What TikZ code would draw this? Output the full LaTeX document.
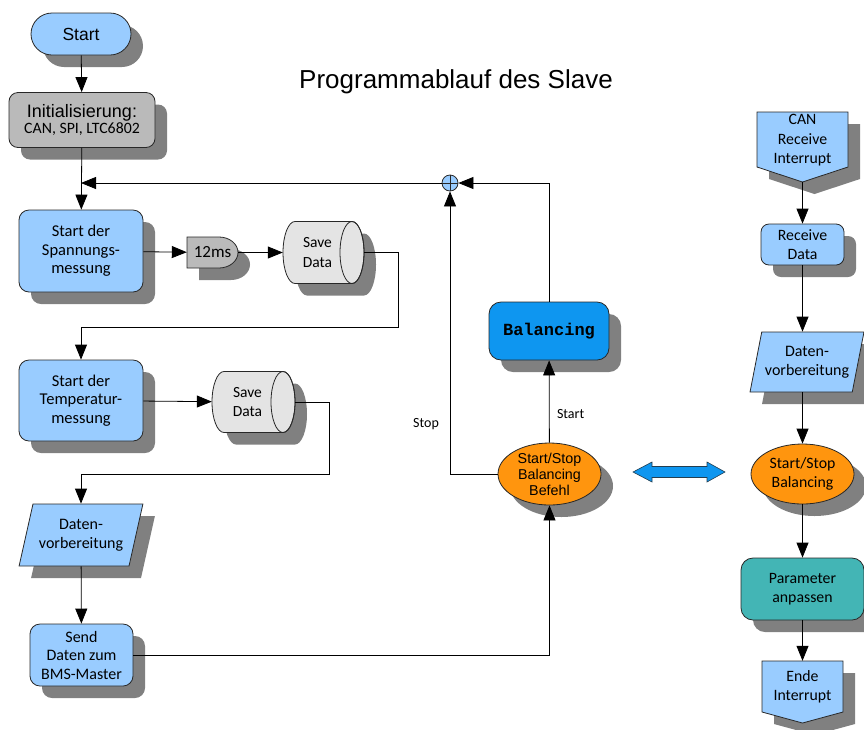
\documentclass[tikz,border=0pt]{standalone}
\usepackage{fontspec}
\setmainfont{Carlito}
\newfontfamily\arialf{Liberation Sans}
\newfontfamily\courf{Liberation Mono}
\usetikzlibrary{shapes.geometric,shapes.misc,shadows,arrows.meta}

\definecolor{lightblue}{RGB}{153,204,255}
\definecolor{shadowgray}{RGB}{128,128,128}
\definecolor{initgray}{RGB}{186,186,186}
\definecolor{storegray}{RGB}{228,228,228}
\definecolor{decisionorange}{RGB}{255,149,14}
\definecolor{balblue}{RGB}{14,150,240}
\definecolor{tealbox}{RGB}{67,181,181}
\definecolor{outline}{RGB}{40,40,40}

\newcommand\fsz[2]{\fontsize{#1}{#2}\selectfont}

% horizontal storage drum: left, right, top, bottom (end face on the right)
\newcommand\drum[4]{%
  \pgfmathsetmacro\dry{(#4-#3)/2}%
  \pgfmathsetmacro\dmid{(#4+#3)/2}%
  \fill[shadowgray] (#1+24,#3+12) -- (#2,#3+12)
    arc[start angle=-90, end angle=90, x radius=12, y radius=\dry] -- (#1+24,#4+12)
    arc[start angle=90, end angle=270, x radius=12, y radius=\dry] -- cycle;
  \filldraw[fill=storegray, draw=outline, line width=0.8pt] (#1+12,#3) -- (#2-12,#3)
    arc[start angle=-90, end angle=90, x radius=12, y radius=\dry] -- (#1+12,#4)
    arc[start angle=90, end angle=270, x radius=12, y radius=\dry] -- cycle;
  \draw[outline, line width=0.8pt] (#2-12,\dmid) ellipse[x radius=12, y radius=\dry];
}

\begin{document}
\begin{tikzpicture}[x=1pt,y=-1pt,
  box/.style={draw=outline, line width=0.8pt, align=center, inner sep=1pt},
  shade12/.style={general shadow={fill=shadowgray, shadow xshift=12pt, shadow yshift=-12pt}},
  arr/.style={-{Triangle[length=15pt,width=12pt]}, line width=0.8pt},
  bodytext/.style={font=\fsz{16.5}{18.5}},
  drumnode/.style={inner sep=0pt, align=center, font=\fsz{15.5}{19.5}},
  databox/.style={box, shade12, trapezium, trapezium stretches=true, fill=lightblue,
    font=\fsz{16}{18.5}},
  lbl/.style={font=\fsz{14}{16}}
]
\useasboundingbox (0,0) rectangle (864,729);

% title
\node[font=\arialf\fsz{26}{29}] (title) at (456,82) {Programmablauf des Slave};

% ---------- main loop ----------
\node[box, shade12, rounded rectangle, fill=lightblue, minimum width=102, minimum height=42,
  font=\arialf\fsz{17.5}{20}] (start) at (81,34) {Start};

\node[box, shade12, rounded corners=9pt, fill=initgray, minimum width=146, minimum height=55]
  (init) at (82,120) {{\arialf\fsz{18}{20}Initialisierung:}\\{\fsz{15.8}{19}CAN, SPI, LTC6802}};

\node[box, shade12, rounded corners=10pt, fill=lightblue, minimum width=124, minimum height=82,
  bodytext] (volt) at (81,251) {Start der\\Spannungs-\\messung};

% delay element
\fill[shadowgray] (199,249) -- (231,249) arc[start angle=-90, end angle=90, x radius=19, y radius=15.5]
  -- (199,280) -- cycle;
\filldraw[fill=initgray, draw=outline, line width=0.8pt] (187,237) -- (219,237)
  arc[start angle=-90, end angle=90, x radius=19, y radius=15.5] -- (187,268) -- cycle;
\node[inner sep=0pt, minimum width=51, minimum height=31, font=\fsz{17}{19}] (delay) at (212.5,252.5) {12ms};

% first data store
\drum{283}{364}{221.5}{283.5}
\node[drumnode, minimum width=81, minimum height=62,
  label={[drumnode, xshift=-6pt]center:{Save\\Data}}] (save1) at (323.5,252.5) {};

\node[box, shade12, rounded corners=10pt, fill=lightblue, minimum width=124, minimum height=81,
  bodytext] (temp) at (81,400.5) {Start der\\Temperatur-\\messung};

% second data store
\drum{212}{295}{371.5}{432.5}
\node[drumnode, minimum width=83, minimum height=61,
  label={[drumnode, xshift=-6pt]center:{Save\\Data}}] (save2) at (253.5,402) {};

\node[databox, trapezium left angle=69.6, trapezium right angle=110.4,
  minimum width=124, minimum height=62] (prep) at (81,535) {Daten-\\vorbereitung};

\node[box, shade12, rounded corners=10pt, fill=lightblue, minimum width=103, minimum height=62,
  font=\fsz{16}{18.5}] (send) at (81.5,655) {Send\\Daten zum\\BMS-Master};

% ---------- balancing branch ----------
\node[box, shade12, ellipse, fill=decisionorange, minimum width=103, minimum height=62,
  inner sep=0pt, font=\arialf\fsz{14.3}{16}] (cmd) at (549.5,474) {Start/Stop\\Balancing\\Befehl};

\node[box, shade12, rounded corners=12pt, fill=balblue, minimum width=120, minimum height=58,
  font=\courf\bfseries\fsz{17}{20}] (bal) at (549,331) {Balancing};

\node[draw=outline, line width=0.8pt, circle, fill=lightblue, minimum size=16, inner sep=0pt,
  path picture={\draw[outline, line width=0.6pt]
    (path picture bounding box.north) -- (path picture bounding box.south)
    (path picture bounding box.west) -- (path picture bounding box.east);}] (merge) at (450,183) {};

\coordinate (join) at (81,183);

% ---------- CAN receive interrupt ----------
\fill[shadowgray] (769,124) -- (860,124) -- (860,179) -- (814.5,194) -- (769,179) -- cycle;
\filldraw[fill=lightblue, draw=outline, line width=0.8pt]
  (757,112) -- (848,112) -- (848,167) -- (802.5,182) -- (757,167) -- cycle;
\node[align=center, font=\fsz{15.8}{19.5}] (can) at (802.5,140.5) {CAN\\Receive\\Interrupt};
\coordinate (cantip) at (802.5,182);

\node[box, shade12, rounded corners=8pt, fill=lightblue, minimum width=83, minimum height=41,
  font=\fsz{15.8}{19.5}] (recv) at (802.5,244.5) {Receive\\Data};

\node[databox, trapezium left angle=71.6, trapezium right angle=108.4,
  minimum width=114, minimum height=60] (prep2) at (807,362) {Daten-\\vorbereitung};

\node[box, shade12, ellipse, fill=decisionorange, minimum width=103, minimum height=60,
  inner sep=0pt, font=\fsz{15.8}{19}] (ctl) at (802.5,474) {Start/Stop\\Balancing};

\node[box, shade12, rounded corners=12pt, fill=tealbox, minimum width=123, minimum height=62,
  font=\fsz{15.8}{19.5}] (param) at (802.5,589) {Parameter\\anpassen};

\fill[shadowgray] (774,673) -- (855,673) -- (855,724) -- (814.5,735) -- (774,724) -- cycle;
\filldraw[fill=lightblue, draw=outline, line width=0.8pt]
  (762,661) -- (843,661) -- (843,712) -- (802.5,723) -- (762,712) -- cycle;
\node[inner sep=0pt, minimum width=81, minimum height=52, align=center, font=\fsz{15.8}{19.5}]
  (ende) at (802.5,687) {Ende\\Interrupt};

% link between command decoder and interrupt handler
\filldraw[fill=balblue, draw=outline!80!balblue, line width=0.6pt]
  (633,472) -- (652,462) -- (652,466.5) -- (707,466.5) -- (707,462) -- (725,472)
  -- (707,482) -- (707,477.5) -- (652,477.5) -- (652,482) -- cycle;

% ---------- connectors ----------
\draw[arr] (start) -- (init);
\draw[arr] (init) -- (volt);
\draw[arr] (merge) -- (join);
\draw[arr] (volt) -- (delay);
\draw[arr] (delay) -- (save1);
\coordinate (c1) at (398,327);
\draw[arr] (save1.east) -| (c1) -| (temp.north);
\draw[arr] (temp) -- (save2);
\coordinate (c2) at (329,474);
\draw[arr] (save2.east) -| (c2) -| (prep.north);
\draw[arr] (prep) -- (send);
\draw[arr] (send.east) -| (cmd.south);
\draw[arr] (cmd) -- node[lbl, right=4pt, pos=0.35] (startlbl) {Start} (bal);
\draw[arr] (bal.north) |- (merge.east);
\draw[arr] (cmd.west) -| (merge.south);
\node[lbl] (stoplbl) at (426,424) {Stop};

\draw[arr] (cantip) -- (recv);
\draw[arr] (recv) -- (recv |- prep2.north);
\draw[arr] (recv |- prep2.south) -- (ctl);
\draw[arr] (ctl) -- (param);
\draw[arr] (param) -- (ende);
\end{tikzpicture}
\end{document}
